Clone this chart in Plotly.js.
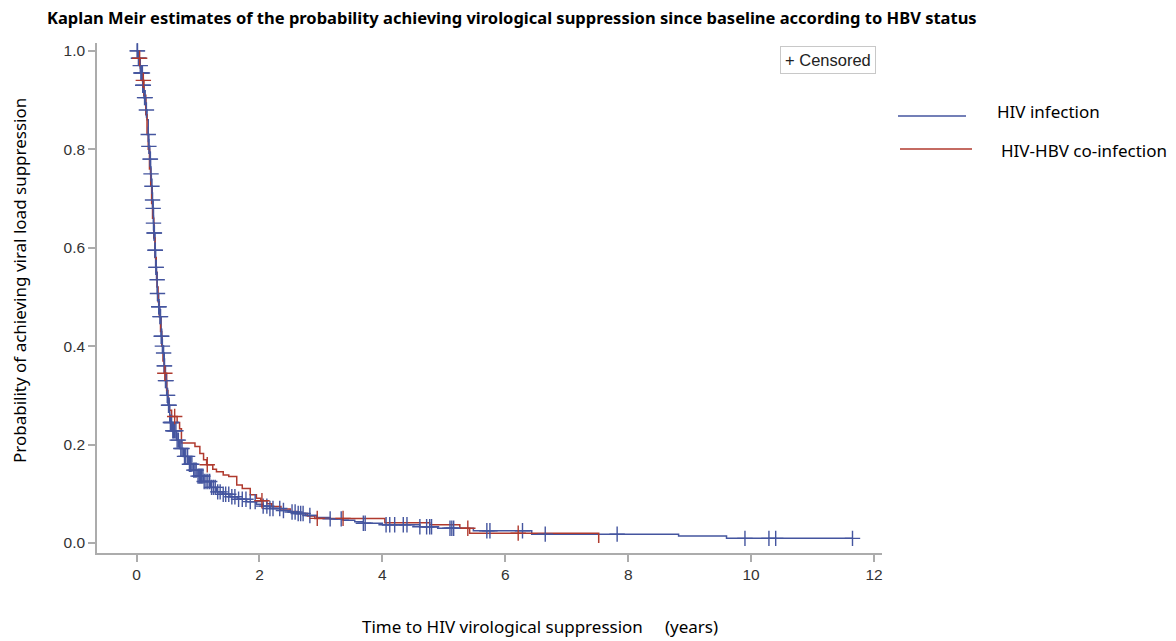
<!DOCTYPE html>
<html><head><meta charset="utf-8">
<script src="https://cdn.plot.ly/plotly-3.0.1.min.js"></script>
<style>html,body{margin:0;padding:0;background:#fff}#chart{width:1176px;height:641px}</style>
</head><body><div id="chart"></div>
<script>
// HIV infection: Kaplan-Meier step curve (time in years, survival)
const hivTime = [0, 0.02, 0.05, 0.07, 0.10, 0.12, 0.15, 0.17, 0.19, 0.20, 0.215, 0.227, 0.24, 0.255, 0.265, 0.275, 0.285, 0.30, 0.31, 0.325, 0.336, 0.36, 0.38, 0.40, 0.415, 0.43, 0.45, 0.47, 0.49, 0.51, 0.54, 0.58, 0.65, 0.70, 0.76, 0.84, 0.92, 1.00, 1.09, 1.20, 1.30, 1.40, 1.52, 1.65, 1.79, 1.95, 2.06, 2.17, 2.34, 2.47, 2.60, 2.75, 2.93, 3.15, 3.36, 3.55, 3.69, 4.00, 4.61, 4.90, 5.48, 6.43, 8.82, 9.60, 11.65];
const hivSurv = [1.0, 0.985, 0.97, 0.955, 0.93, 0.905, 0.88, 0.86, 0.83, 0.806, 0.78, 0.75, 0.725, 0.697, 0.68, 0.65, 0.63, 0.595, 0.56, 0.535, 0.507, 0.48, 0.46, 0.42, 0.40, 0.386, 0.36, 0.33, 0.30, 0.28, 0.245, 0.228, 0.209, 0.192, 0.176, 0.16, 0.148, 0.136, 0.125, 0.113, 0.104, 0.099, 0.094, 0.089, 0.084, 0.079, 0.075, 0.070, 0.066, 0.063, 0.060, 0.056, 0.052, 0.049, 0.046, 0.043, 0.040, 0.037, 0.033, 0.030, 0.025, 0.018, 0.014, 0.0095, 0.0095];
const hivCensorTime = [0.01, 0.015, 0.03, 0.04, 0.06, 0.07, 0.08, 0.095, 0.10, 0.11, 0.13, 0.14, 0.16, 0.19, 0.20, 0.22, 0.225, 0.235, 0.25, 0.26, 0.27, 0.275, 0.285, 0.29, 0.30, 0.305, 0.315, 0.32, 0.335, 0.34, 0.36, 0.365, 0.38, 0.39, 0.40, 0.41, 0.42, 0.44, 0.45, 0.455, 0.47, 0.48, 0.50, 0.505, 0.52, 0.53, 0.55, 0.56, 0.57, 0.59, 0.60, 0.62, 0.64, 0.66, 0.68, 0.72, 0.74, 0.78, 0.80, 0.83, 0.86, 0.88, 0.90, 0.93, 0.95, 0.97, 1.0, 1.02, 1.04, 1.06, 1.08, 1.1, 1.13, 1.16, 1.19, 1.22, 1.25, 1.28, 1.32, 1.36, 1.41, 1.45, 1.5, 1.55, 1.6, 1.66, 1.72, 1.78, 1.85, 1.93, 2.06, 2.12, 2.17, 2.22, 2.33, 2.39, 2.53, 2.58, 2.63, 2.67, 2.71, 2.82, 3.15, 3.33, 3.69, 3.72, 4.06, 4.12, 4.2, 4.34, 4.4, 4.61, 4.72, 4.77, 4.8, 5.10, 5.13, 5.16, 5.70, 5.75, 6.28, 6.65, 7.82, 9.9, 10.29, 10.40, 11.65];

// HIV-HBV co-infection
const coTime = [0, 0.03, 0.06, 0.09, 0.12, 0.15, 0.17, 0.19, 0.21, 0.23, 0.245, 0.26, 0.28, 0.30, 0.32, 0.335, 0.35, 0.37, 0.39, 0.41, 0.43, 0.45, 0.49, 0.51, 0.53, 0.57, 0.66, 0.70, 0.73, 0.95, 1.03, 1.09, 1.14, 1.24, 1.30, 1.41, 1.50, 1.63, 1.72, 1.85, 1.95, 2.02, 2.12, 2.20, 2.35, 2.50, 2.62, 2.78, 2.90, 4.04, 4.77, 5.26, 5.42, 7.52];
const coSurv = [1.0, 0.985, 0.965, 0.94, 0.91, 0.87, 0.83, 0.80, 0.76, 0.725, 0.69, 0.66, 0.62, 0.58, 0.55, 0.52, 0.49, 0.46, 0.43, 0.40, 0.37, 0.345, 0.31, 0.29, 0.27, 0.257, 0.245, 0.232, 0.203, 0.196, 0.182, 0.169, 0.159, 0.150, 0.145, 0.138, 0.135, 0.118, 0.111, 0.098, 0.091, 0.086, 0.080, 0.074, 0.069, 0.064, 0.060, 0.055, 0.050, 0.041, 0.037, 0.030, 0.020, 0.0];
const coCensorTime = [0.05, 0.11, 0.46, 0.62, 1.15, 2.04, 2.94, 3.36, 5.39, 6.21];

const seriesNames = ['HIV infection', 'HIV-HBV co-infection'];
const xTickVals = [0, 2, 4, 6, 8, 10, 12];
const yTickVals = [0.0, 0.2, 0.4, 0.6, 0.8, 1.0];

const BLUE = '#44559f', RED = '#b03a2e';

function survAt(times, surv, t) {
  let s = surv[0];
  for (let i = 0; i < times.length; i++) { if (times[i] <= t) s = surv[i]; else break; }
  return s;
}

const traces = [
  {x: hivTime, y: hivSurv, type: 'scatter', mode: 'lines', name: seriesNames[0],
   line: {color: BLUE, width: 1.5, shape: 'hv'}, showlegend: false},
  {x: coTime, y: coSurv, type: 'scatter', mode: 'lines', name: seriesNames[1],
   line: {color: RED, width: 1.5, shape: 'hv'}, showlegend: false},
  {x: hivCensorTime, y: hivCensorTime.map(t => survAt(hivTime, hivSurv, t)), type: 'scatter', mode: 'markers',
   showlegend: false, name: seriesNames[0] + ' (censored)', marker: {symbol: 'cross-thin', size: 11, line: {color: BLUE, width: 1.4}}},
  {x: coCensorTime, y: coCensorTime.map(t => survAt(coTime, coSurv, t)), type: 'scatter', mode: 'markers',
   showlegend: false, name: seriesNames[1] + ' (censored)', marker: {symbol: 'cross-thin', size: 11, line: {color: RED, width: 1.4}}}
];

// pixel helpers for the hand-made legend (plot area: x 97..882, y 43..553)
const PX = p => (p - 97) / 785;
const PY = p => (553 - p) / 510;

const axisFont = {family: 'Liberation Sans, Arial, sans-serif', size: 15.5, color: '#333'};
const textFont = {family: 'Noto Sans, sans-serif', size: 17, color: '#000'};
const layout = {
  width: 1176, height: 641,
  margin: {l: 97, r: 294, t: 43, b: 88},
  paper_bgcolor: '#fff', plot_bgcolor: '#fff',
  showlegend: false,
  title: {text: 'Kaplan Meir estimates of the probability achieving virological suppression since baseline according to HBV status',
    font: {family: 'Noto Sans, sans-serif', size: 16.5, color: '#000', weight: 'bold'},
    x: 47/1176, xanchor: 'left', xref: 'container', y: 1 - 18/641, yanchor: 'middle', yref: 'container'},
  xaxis: {range: [-0.644, 12.13], tickvals: xTickVals, ticktext: xTickVals.map(String),
    showgrid: false, zeroline: false, showline: true, linecolor: '#acacac', linewidth: 1.5,
    ticks: 'outside', ticklen: 7, tickcolor: '#acacac', tickwidth: 1.5, tickfont: axisFont},
  yaxis: {range: [-0.0203, 1.016], tickvals: yTickVals, ticktext: yTickVals.map(v => v.toFixed(1)),
    showgrid: false, zeroline: false, showline: true, linecolor: '#acacac', linewidth: 1.5,
    ticks: 'outside', ticklen: 7, tickcolor: '#acacac', tickwidth: 1.5, tickfont: axisFont},
  shapes: [
    {type: 'line', xref: 'paper', yref: 'paper', x0: PX(898), x1: PX(966), y0: PY(116), y1: PY(116), line: {color: BLUE, width: 1.5}},
    {type: 'line', xref: 'paper', yref: 'paper', x0: PX(900), x1: PX(972), y0: PY(149), y1: PY(149), line: {color: RED, width: 1.5}}
  ],
  annotations: [
    {text: 'Time to HIV virological suppression\u00a0\u00a0\u00a0\u00a0\u00a0(years)', xref: 'paper', yref: 'paper',
     x: PX(540), y: PY(626), xanchor: 'center', yanchor: 'middle', showarrow: false, font: textFont},
    {text: 'Probability of achieving viral load suppression', xref: 'paper', yref: 'paper', textangle: -90,
     x: PX(19), y: PY(281), xanchor: 'center', yanchor: 'middle', showarrow: false, font: textFont},
    {text: seriesNames[0], xref: 'paper', yref: 'paper', x: PX(995), y: PY(112), xanchor: 'left', yanchor: 'middle',
     showarrow: false, font: textFont},
    {text: seriesNames[1], xref: 'paper', yref: 'paper', x: PX(999), y: PY(150), xanchor: 'left', yanchor: 'middle',
     showarrow: false, font: textFont},
    {text: '+ Censored', xref: 'paper', yref: 'paper', x: PX(828), y: PY(59.5),
     xanchor: 'center', yanchor: 'middle', showarrow: false, bordercolor: '#c8c8c8', borderwidth: 1, borderpad: 4,
     bgcolor: '#fff', font: {family: 'Liberation Sans, Arial, sans-serif', size: 16.5, color: '#222'}}
  ]
};

Plotly.newPlot('chart', traces, layout, {displayModeBar: false, responsive: false});
</script>
</body></html>
